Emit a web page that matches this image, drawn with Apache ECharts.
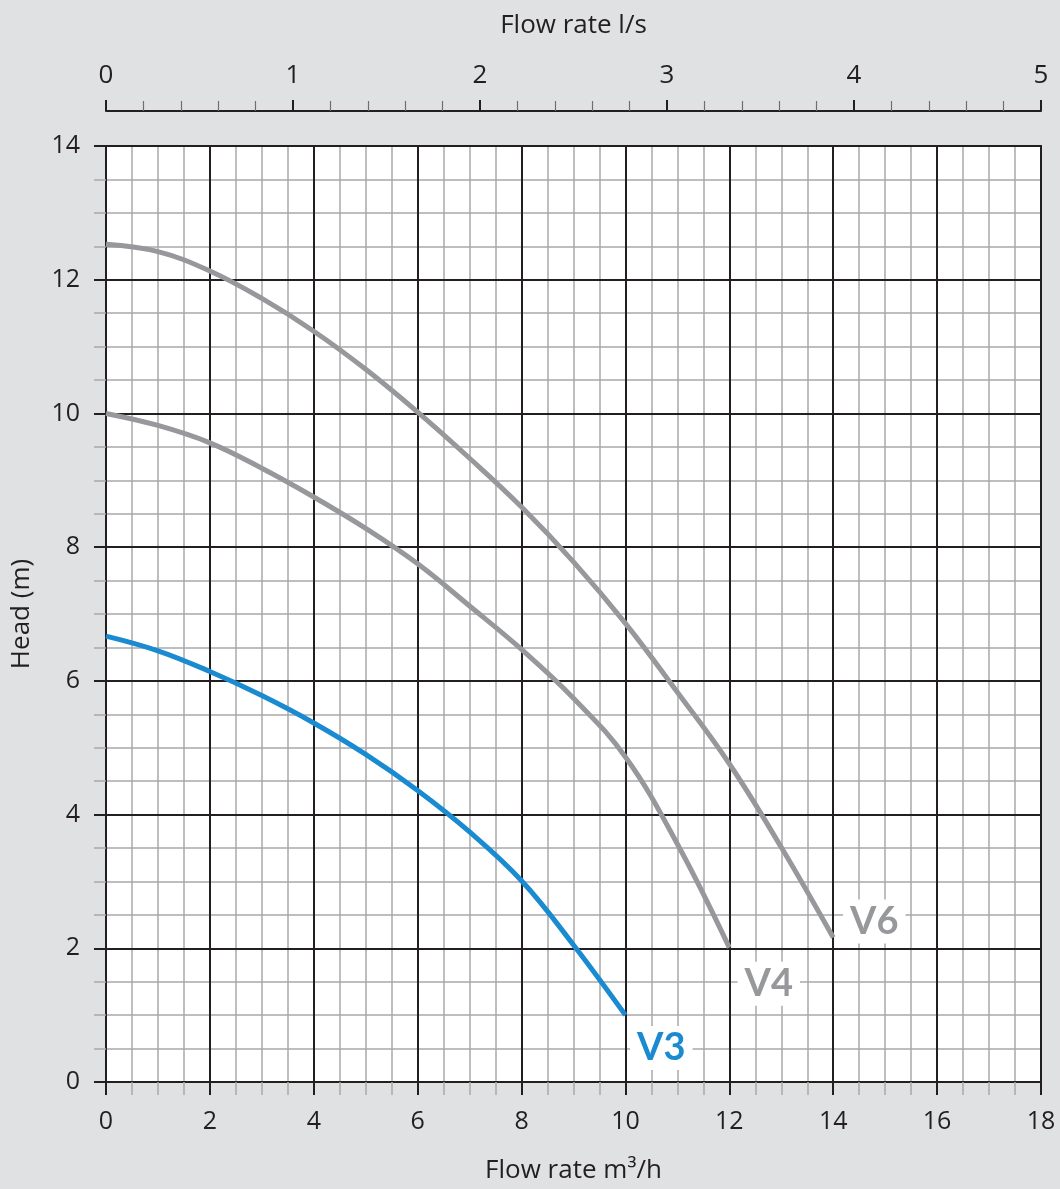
<!DOCTYPE html>
<html><head><meta charset="utf-8">
<script src="https://cdn.jsdelivr.net/npm/echarts@6/dist/echarts.min.js"></script>
<style>html,body{margin:0;padding:0;background:#e0e1e3}#c{width:1060px;height:1189px}</style>
</head><body><div id="c"></div>
<script>
// Flow rate (m3/h) and head (m)
const v3Flow = [0, 1, 2, 3, 4, 5, 6, 7, 8, 9, 10];
const v3Head = [6.67, 6.45, 6.14, 5.78, 5.37, 4.9, 4.36, 3.74, 3.01, 2.05, 1.0];
const v4Flow = [0, 1, 2, 3, 4, 5, 6, 7, 8, 9, 10, 11, 12];
const v4Head = [10.0, 9.82, 9.56, 9.18, 8.75, 8.28, 7.75, 7.12, 6.47, 5.74, 4.86, 3.56, 2.01];
const v6Flow = [0, 1, 2, 3, 4, 5, 6, 7, 8, 9, 10, 11, 12, 13, 14];
const v6Head = [12.53, 12.42, 12.13, 11.72, 11.23, 10.66, 10.02, 9.33, 8.6, 7.78, 6.86, 5.83, 4.76, 3.51, 2.16];
const seriesNames = ['V3', 'V4', 'V6'];
const xRangeM3h = [0, 18];
const xRangeLs = [0, 5];
const yRange = [0, 14];

const DARK = '#231f20', MINOR = '#a9a9a9', FONT = "'Open Sans', sans-serif";
const BLUE = '#1a8ad1', GRAY = '#97989b';

const pair = (xs, ys) => xs.map((x, i) => [x, ys[i]]);

function curve(name, data, color, labelCoord) {
  return {
    name, type: 'line', data, xAxisIndex: 0, yAxisIndex: 0,
    smooth: 0.4, symbol: 'none', z: 5,
    lineStyle: { color, width: 5, cap: 'butt' },
    markPoint: {
      symbol: 'circle', symbolSize: 0, silent: true, animation: false,
      data: [{ coord: labelCoord }],
      label: {
        show: true, position: 'inside', formatter: name,
        fontFamily: 'Lato, sans-serif', fontWeight: 'bold', fontSize: 38,
        color, backgroundColor: '#ffffff', padding: [3, 7]
      }
    }
  };
}

const chart = echarts.init(document.getElementById('c'), null, { renderer: 'canvas' });
chart.setOption({
  animation: false,
  backgroundColor: '#e0e1e3',
  textStyle: { fontFamily: FONT, color: DARK },
  grid: { left: 106, right: 19, top: 146, bottom: 107, outerBoundsMode: 'none',
          show: true, backgroundColor: '#ffffff', borderColor: DARK, borderWidth: 2 },
  xAxis: [
    { // bottom m3/h axis with labels, ticks and major grid lines
      type: 'value', position: 'bottom', min: xRangeM3h[0], max: xRangeM3h[1], interval: 2, z: 3,
      name: 'Flow rate m³/h', nameLocation: 'middle', nameGap: 76,
      nameTextStyle: { fontFamily: FONT, fontSize: 26, color: DARK },
      axisLine: { show: true, onZero: false, lineStyle: { color: DARK, width: 2 } },
      axisTick: { show: true, length: 13, lineStyle: { color: DARK, width: 2 } },
      minorTick: { show: true, splitNumber: 4, length: 13, lineStyle: { color: MINOR, width: 1.5 } },
      axisLabel: { margin: 27, fontFamily: FONT, fontSize: 25, color: DARK },
      splitLine: { show: true, lineStyle: { color: DARK, width: 2 } },
      minorSplitLine: { show: false }
    },
    { // top l/s axis
      type: 'value', position: 'top', offset: 35, min: xRangeLs[0], max: xRangeLs[1], interval: 1,
      name: 'Flow rate l/s', nameLocation: 'middle', nameGap: 72,
      nameTextStyle: { fontFamily: FONT, fontSize: 26, color: DARK },
      axisLine: { show: true, onZero: false, lineStyle: { color: DARK, width: 2 } },
      axisTick: { show: true, length: 11, lineStyle: { color: DARK, width: 2 } },
      minorTick: { show: true, splitNumber: 5, length: 10, lineStyle: { color: '#6d6e71', width: 1.2 } },
      axisLabel: { margin: 22, fontFamily: FONT, fontSize: 26, color: DARK },
      splitLine: { show: false }
    },
    { // minor vertical grid lines (drawn beneath major)
      type: 'value', position: 'bottom', min: xRangeM3h[0], max: xRangeM3h[1], interval: 2, z: 1,
      axisLine: { show: false, onZero: false }, axisTick: { show: false }, axisLabel: { show: false },
      minorTick: { show: false, splitNumber: 4 },
      splitLine: { show: false },
      minorSplitLine: { show: true, lineStyle: { color: MINOR, width: 1.5 } }
    }
  ],
  yAxis: [
    {
      type: 'value', min: yRange[0], max: yRange[1], interval: 2, z: 3,
      name: 'Head (m)', nameLocation: 'middle', nameGap: 71,
      nameTextStyle: { fontFamily: FONT, fontSize: 26, color: DARK },
      axisLine: { show: true, onZero: false, lineStyle: { color: DARK, width: 2 } },
      axisTick: { show: true, length: 12, lineStyle: { color: DARK, width: 2 } },
      minorTick: { show: true, splitNumber: 4, length: 12, lineStyle: { color: MINOR, width: 1.5 } },
      axisLabel: { margin: 26, fontFamily: FONT, fontSize: 25, color: DARK },
      splitLine: { show: true, lineStyle: { color: DARK, width: 2 } },
      minorSplitLine: { show: false }
    },
    {
      type: 'value', min: yRange[0], max: yRange[1], interval: 2, z: 1,
      axisLine: { show: false, onZero: false }, axisTick: { show: false }, axisLabel: { show: false },
      minorTick: { show: false, splitNumber: 4 },
      splitLine: { show: false },
      minorSplitLine: { show: true, lineStyle: { color: MINOR, width: 1.5 } }
    }
  ],
  series: [
    curve(seriesNames[2], pair(v6Flow, v6Head), GRAY, [14.79, 2.40]),
    curve(seriesNames[1], pair(v4Flow, v4Head), GRAY, [12.76, 1.47]),
    curve(seriesNames[0], pair(v3Flow, v3Head), BLUE, [10.69, 0.51])
  ]
});
</script>
</body></html>
